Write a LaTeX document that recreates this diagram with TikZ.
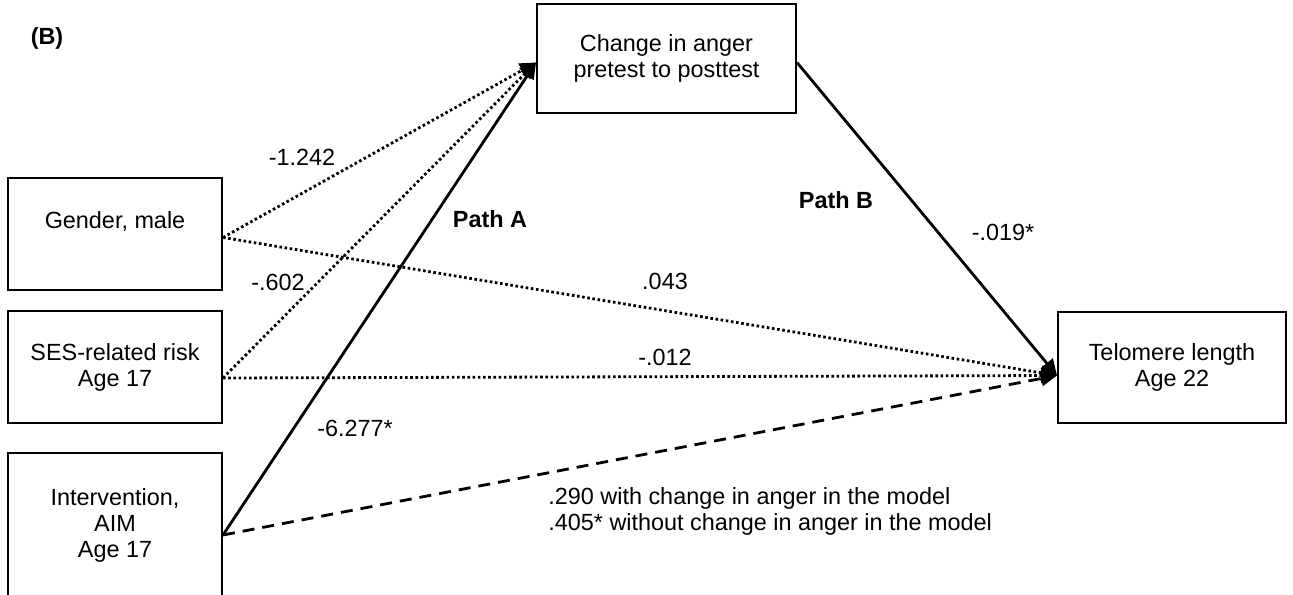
\documentclass[tikz,border=0pt]{standalone}
\usepackage{fontspec}
\setmainfont{Liberation Sans}
\usetikzlibrary{arrows.meta, positioning}

\tikzset{
  var/.style={draw, line width=1pt, inner sep=0pt, align=center,
    minimum width=107pt, minimum height=56pt},
  boldlabel/.style={font=\fontsize{11.7pt}{13pt}\selectfont\bfseries},
  pathtip/.style={-{Triangle[length=8pt,width=7.5pt]}},
  sig/.style={pathtip, line width=1.4pt},
  nonsig/.style={pathtip, line width=1.4pt, dash pattern=on 1.3pt off 1.3pt},
  direct/.style={pathtip, line width=1.4pt, dash pattern=on 6pt off 4pt},
}

\begin{document}
\begin{tikzpicture}[x=0.5pt, y=-0.5pt, font=\fontsize{11.7pt}{13pt}\selectfont]
    \useasboundingbox (0,0) rectangle (1293,594);

    % variables
    \node[var] (gender) at (115,233.5) {Gender, male\\ \mbox{}};
    \node[var] (ses) at (115,367) {SES-related risk\\Age 17};
    \node[var, minimum height=72pt] (aim) at (115,525) {Intervention,\\AIM\\Age 17};
    \node[var, minimum width=129.5pt, minimum height=54.5pt] (anger) at (666.5,58.5) {Change in anger\\pretest to posttest};
    \node[var, minimum width=114pt, minimum height=55.5pt] (telo) at (1172,367.5) {Telomere length\\Age 22};

    % ports
    \coordinate (genout) at ([yshift=-2pt]gender.east);
    \coordinate (sesout) at ([yshift=-5.5pt]ses.east);
    \coordinate (aimout) at ([yshift=-5pt]aim.east);
    \coordinate (angerin) at ([yshift=-2pt]anger.west);
    \coordinate (angerout) at ([yshift=-2pt]anger.east);
    \coordinate (teloin) at ([yshift=-4pt]telo.west);

    % paths
    \draw[nonsig] (genout) -- (angerin);
    \draw[nonsig] (sesout) -- (angerin);
    \draw[sig] (aimout) -- (angerin);
    \draw[nonsig] (genout) -- (teloin);
    \draw[nonsig] (sesout) -- (teloin);
    \draw[direct] (aimout) -- (teloin);
    \draw[sig] (angerout) -- (teloin);

    % labels
    \node[boldlabel] (panel) at (47,38) {(B)};
    \node (bgen) at (302,157) {-1.242};
    \node (bses) at (278,282) {-.602};
    \node[boldlabel] (patha) at (490,219) {Path A};
    \node (baim) at (355,428) {-6.277*};
    \node[boldlabel] (pathb) at (836,200) {Path B};
    \node (bb) at (1003,232) {-.019*};
    \node (cgen) at (665,281) {.043};
    \node (cses) at (665,357) {-.012};
    \node[align=left, anchor=west, inner sep=0pt] (caim) at (548,511) {.290 with change in anger in the model\\.405* without change in anger in the model};
\end{tikzpicture}
\end{document}
